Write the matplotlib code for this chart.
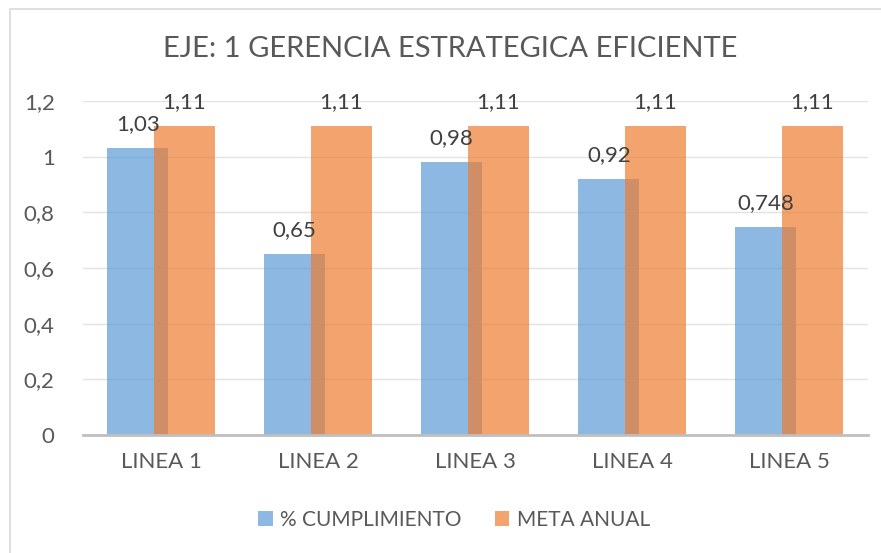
import numpy as np
import matplotlib
matplotlib.use('Agg')
import matplotlib.pyplot as plt
from matplotlib.patches import Rectangle

plt.rcParams['font.family'] = ['Lato', 'DejaVu Sans']

categories = ['LINEA 1', 'LINEA 2', 'LINEA 3', 'LINEA 4', 'LINEA 5']
cumplimiento = [1.03, 0.65, 0.98, 0.92, 0.748]
meta = [1.11, 1.11, 1.11, 1.11, 1.11]
cumplimiento_labels = ['1,03', '0,65', '0,98', '0,92', '0,748']
meta_labels = ['1,11', '1,11', '1,11', '1,11', '1,11']
yticks = [0, 0.2, 0.4, 0.6, 0.8, 1.0, 1.2]
ytick_labels = ['0', '0,2', '0,4', '0,6', '0,8', '1', '1,2']

txt = '#595959'
fig = plt.figure(figsize=(8.81, 5.53), dpi=100)
ax = fig.add_axes([82.5/881, (553-435)/553, 785/881, 334/553])

# chart border
fig.patches.append(Rectangle((10/881, -0.01), 1.0, (553-9)/553 + 0.01, transform=fig.transFigure,
                             fill=False, edgecolor='#D9D9D9', lw=1.2))

x = np.arange(len(categories))
w = 0.39
off = 0.148
b1 = ax.bar(x - off, cumplimiento, w, color='#5B9BD5', alpha=0.7, label='% CUMPLIMIENTO', zorder=2)
b2 = ax.bar(x + off, meta, w, color='#ED7D31', alpha=0.7, label='META ANUAL', zorder=3)

for xi, v, s in zip(x - off, cumplimiento, cumplimiento_labels):
    ax.annotate(s, (xi, v), xytext=(0, 13), textcoords='offset points', ha='center',
                va='baseline', fontsize=16, color='#404040', zorder=4)
for xi, v, s in zip(x + off, meta, meta_labels):
    ax.annotate(s, (xi, v), xytext=(0, 13), textcoords='offset points', ha='center',
                va='baseline', fontsize=16, color='#404040', zorder=4)

ax.set_xlim(-0.5, len(categories) - 0.5)
ax.set_ylim(0, 1.2)
ax.set_yticks(yticks)
ax.set_yticklabels(ytick_labels)
ax.set_xticks(x)
ax.set_xticklabels(categories)
ax.tick_params(axis='both', length=0, labelsize=16, labelcolor=txt)
ax.tick_params(axis='y', pad=20)
ax.tick_params(axis='x', pad=12)
ax.grid(axis='y', color='#E3E3E3', lw=1, zorder=0)
ax.set_axisbelow(True)
for sp in ['top', 'right', 'left']:
    ax.spines[sp].set_visible(False)
ax.spines['bottom'].set_color('#BFBFBF')
ax.spines['bottom'].set_linewidth(2)
ax.spines['bottom'].set_zorder(5)

fig.text(0.511, 1 - 49/553, 'EJE: 1 GERENCIA ESTRATEGICA EFICIENTE', ha='center', va='center',
         fontsize=21, color=txt)

ax.legend(loc='center', bbox_to_anchor=(454/881, 1 - 520/553), bbox_transform=fig.transFigure,
          ncol=2, frameon=False, fontsize=15, handlelength=0.7, handleheight=0.7,
          columnspacing=1.6, handletextpad=0.35, labelcolor=txt)

fig.savefig('out.png', dpi=100)
